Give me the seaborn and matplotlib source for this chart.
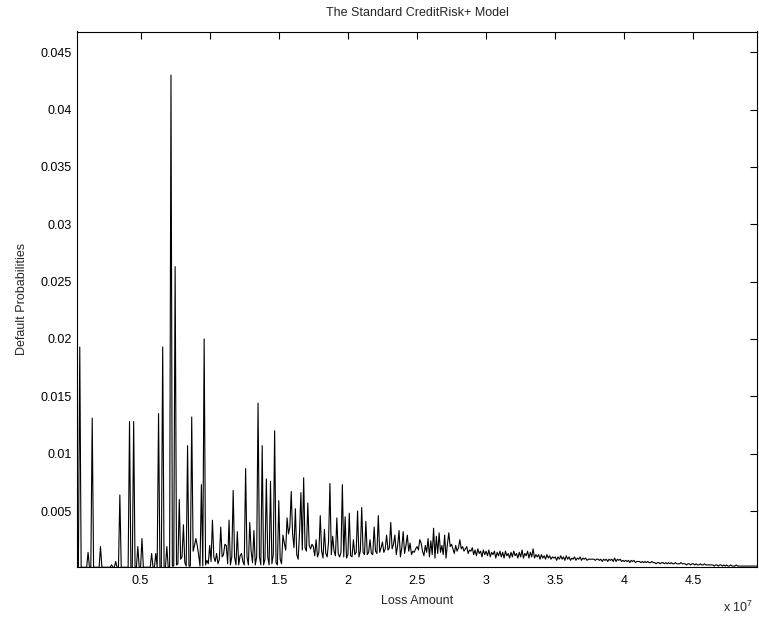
#Loss distribution plot (CreditRisk+ style)
# -*- coding: utf-8 -*-

import numpy as np
import pandas as pd
import matplotlib
matplotlib.use("Agg")
import matplotlib.pyplot as plt
from matplotlib.ticker import FuncFormatter, MultipleLocator
import seaborn as sns

#### Data
# loss unit and the loss-unit multiples shown on the x axis
loss_unit = 1e5
units = np.arange(4, 497)

# default probabilities per loss-unit multiple, 10 values per row
p_head = [
    0.0001, 0.0001, 0.0193, 0.0001, 0.0001, 0.0001,                                   # 4-9
    0.0001, 0.0001, 0.0014, 0.0001, 0.0001, 0.0131, 0.0001, 0.0001, 0.0001, 0.0001,   # 10
    0.0001, 0.0019, 0.0001, 0.0001, 0.0001, 0.0001, 0.0001, 0.0001, 0.0001, 0.0003,   # 20
    0.0001, 0.0001, 0.0006, 0.0001, 0.0001, 0.0064, 0.0001, 0.0001, 0.0001, 0.0001,   # 30
    0.0001, 0.0001, 0.0128, 0.0001, 0.0001, 0.0128, 0.0001, 0.0001, 0.0019, 0.0001,   # 40
    0.0001, 0.0026, 0.0001, 0.0001, 0.0001, 0.0001, 0.0001, 0.0001, 0.0013, 0.0001,   # 50
    0.0001, 0.0013, 0.0001, 0.0135, 0.0001, 0.0001, 0.0193, 0.0001, 0.0001, 0.0019,   # 60
    0.0001, 0.0001, 0.0430, 0.0002, 0.0002, 0.0263, 0.0003, 0.0004, 0.0060, 0.0008,   # 70
    0.0010, 0.0038, 0.0005, 0.0002, 0.0107, 0.0002, 0.0002, 0.0132, 0.0015, 0.0020,   # 80
    0.0026, 0.0020, 0.0012, 0.0002, 0.0073, 0.0002, 0.0200, 0.0003, 0.0007, 0.0004,   # 90
]
p_body = [
    0.0020, 0.0006, 0.0042, 0.0010, 0.0006, 0.0013, 0.0004, 0.0008, 0.0036, 0.0010,   # 100
    0.0012, 0.0021, 0.0020, 0.0004, 0.0042, 0.0003, 0.0010, 0.0068, 0.0010, 0.0003,   # 110
    0.0032, 0.0003, 0.0011, 0.0013, 0.0006, 0.0003, 0.0087, 0.0010, 0.0003, 0.0040,   # 120
    0.0015, 0.0005, 0.0033, 0.0003, 0.0010, 0.0144, 0.0010, 0.0003, 0.0107, 0.0003,   # 130
    0.0008, 0.0078, 0.0010, 0.0003, 0.0076, 0.0004, 0.0012, 0.0120, 0.0005, 0.0003,   # 140
    0.0059, 0.0008, 0.0004, 0.0029, 0.0022, 0.0016, 0.0044, 0.0030, 0.0036, 0.0067,   # 150
    0.0030, 0.0018, 0.0052, 0.0012, 0.0008, 0.0031, 0.0066, 0.0016, 0.0079, 0.0018,   # 160
    0.0015, 0.0057, 0.0020, 0.0017, 0.0021, 0.0019, 0.0011, 0.0025, 0.0010, 0.0014,   # 170
    0.0046, 0.0015, 0.0009, 0.0034, 0.0013, 0.0010, 0.0023, 0.0074, 0.0012, 0.0028,   # 180
    0.0015, 0.0011, 0.0044, 0.0013, 0.0010, 0.0014, 0.0073, 0.0010, 0.0045, 0.0009,   # 190
]
p_mid = [
    0.0012, 0.0048, 0.0011, 0.0010, 0.0025, 0.0012, 0.0014, 0.0050, 0.0010, 0.0015,   # 200
    0.0053, 0.0014, 0.0012, 0.0041, 0.0012, 0.0014, 0.0025, 0.0013, 0.0012, 0.0036,   # 210
    0.0015, 0.0013, 0.0046, 0.0014, 0.0018, 0.0023, 0.0014, 0.0017, 0.0029, 0.0016,   # 220
    0.0018, 0.0040, 0.0017, 0.0021, 0.0029, 0.0012, 0.0020, 0.0033, 0.0010, 0.0018,   # 230
    0.0032, 0.0013, 0.0020, 0.0029, 0.0015, 0.0022, 0.0012, 0.0015, 0.0014, 0.0017,   # 240
    0.0019, 0.0016, 0.0025, 0.0022, 0.0015, 0.0011, 0.0020, 0.0014, 0.0026, 0.0010,   # 250
    0.0024, 0.0012, 0.0035, 0.0009, 0.0028, 0.0013, 0.0031, 0.0014, 0.0020, 0.0012,   # 260
    0.0029, 0.0009, 0.0021, 0.0031, 0.0019, 0.0021, 0.0017, 0.0013, 0.0020, 0.0015,   # 270
    0.0018, 0.0025, 0.0017, 0.0019, 0.0015, 0.0017, 0.0019, 0.0013, 0.0016, 0.0015,   # 280
    0.0018, 0.0012, 0.0016, 0.0011, 0.0017, 0.0013, 0.0015, 0.0010, 0.0016, 0.0012,   # 290
]
p_tail = [
    0.0015, 0.0011, 0.0016, 0.0010, 0.0014, 0.0012, 0.0015, 0.0009, 0.0014, 0.0011,   # 300
    0.0015, 0.0010, 0.0014, 0.0009, 0.0015, 0.0011, 0.0013, 0.0009, 0.0014, 0.0010,   # 310
    0.0015, 0.0011, 0.0013, 0.0009, 0.0014, 0.0010, 0.0016, 0.0009, 0.0013, 0.0011,   # 320
    0.0015, 0.0009, 0.0014, 0.0010, 0.0017, 0.0009, 0.0012, 0.0010, 0.0012, 0.0008,   # 330
    0.0012, 0.0009, 0.0011, 0.0008, 0.0012, 0.0009, 0.0011, 0.0008, 0.0010, 0.0009,   # 340
    0.0010, 0.0007, 0.0010, 0.0008, 0.0011, 0.0008, 0.0010, 0.0007, 0.0011, 0.0008,   # 350
    0.0010, 0.0007, 0.0009, 0.0008, 0.0010, 0.0007, 0.0009, 0.0008, 0.0010, 0.0007,   # 360
    0.0009, 0.0008, 0.0009, 0.0007, 0.0008, 0.0008, 0.0008, 0.0008, 0.0008, 0.0007,   # 370
    0.0008, 0.0008, 0.0007, 0.0008, 0.0006, 0.0008, 0.0007, 0.0008, 0.0006, 0.0008,   # 380
    0.0007, 0.0008, 0.0006, 0.0009, 0.0006, 0.0008, 0.0007, 0.0008, 0.0006, 0.0007,   # 390
    0.0006, 0.0007, 0.0006, 0.0007, 0.0005, 0.0007, 0.0006, 0.0007, 0.0005, 0.0006,   # 400
    0.0006, 0.0006, 0.0005, 0.0006, 0.0005, 0.0006, 0.0005, 0.0006, 0.0005, 0.0005,   # 410
    0.0006, 0.0005, 0.0005, 0.0004, 0.0005, 0.0005, 0.0004, 0.0005, 0.0005, 0.0004,   # 420
    0.0005, 0.0004, 0.0005, 0.0004, 0.0005, 0.0004, 0.0004, 0.0005, 0.0004, 0.0004,   # 430
    0.0004, 0.0005, 0.0004, 0.0004, 0.0004, 0.0003, 0.0004, 0.0004, 0.0003, 0.0004,   # 440
    0.0004, 0.0003, 0.0004, 0.0003, 0.0003, 0.0004, 0.0003, 0.0003, 0.0004, 0.0003,   # 450
    0.0003, 0.0003, 0.0003, 0.0003, 0.0003, 0.0002, 0.0003, 0.0003, 0.0002, 0.0003,   # 460
    0.0003, 0.0002, 0.0003, 0.0002, 0.0003, 0.0002, 0.0002, 0.0003, 0.0002, 0.0002,   # 470
    0.0002, 0.0003, 0.0002, 0.0002, 0.0002, 0.0002, 0.0002, 0.0002, 0.0002, 0.0002,   # 480
    0.0002, 0.0002, 0.0002, 0.0002, 0.0002, 0.0002, 0.0002,                           # 490-496
]

probs = p_head + p_body + p_mid + p_tail
assert len(probs) == len(units), (len(probs), len(units))

df = pd.DataFrame({"Loss": units * loss_unit, "Prob": probs})

#### Style (MATLAB-like look)
sns.set_theme(style="white")
plt.rcParams['font.family'] = ['Liberation Sans', 'DejaVu Sans']
plt.rcParams['mathtext.default'] = 'regular'
plt.rcParams['axes.edgecolor'] = 'black'
plt.rcParams['axes.linewidth'] = 0.8

fig = plt.figure(figsize=(7.59, 6.19), dpi=100)
ax = fig.add_axes([77 / 759, 52 / 619, 680 / 759, 535.5 / 619])

sns.lineplot(data=df, x="Loss", y="Prob", color="black", linewidth=0.8, ax=ax)

ax.set_xlim(df["Loss"].min(), df["Loss"].max())
ax.set_ylim(0.00012, 0.0468)

ax.xaxis.set_major_locator(MultipleLocator(0.5e7))
ax.xaxis.set_major_formatter(FuncFormatter(lambda v, p: f"{v / 1e7:g}"))
ax.yaxis.set_major_locator(MultipleLocator(0.005))
ax.yaxis.set_major_formatter(FuncFormatter(lambda v, p: f"{v:g}"))

ax.tick_params(direction="in", top=True, right=True, length=5, width=0.8,
               labelsize=9, colors="black")
ax.tick_params(axis="x", pad=6)
ax.tick_params(axis="y", pad=4)

ax.set_title("The Standard CreditRisk+ Model", fontsize=9, pad=11)
ax.set_xlabel("Loss Amount", fontsize=9, labelpad=5.5)
ax.set_ylabel("Default Probabilities", fontsize=9, labelpad=9)
ax.grid(False)

fig.text(723 / 759, 1 - 612 / 619, "x 10$^{7}$", fontsize=9, ha="left", va="baseline")

plt.savefig("out.png", dpi=100)
plt.close()
